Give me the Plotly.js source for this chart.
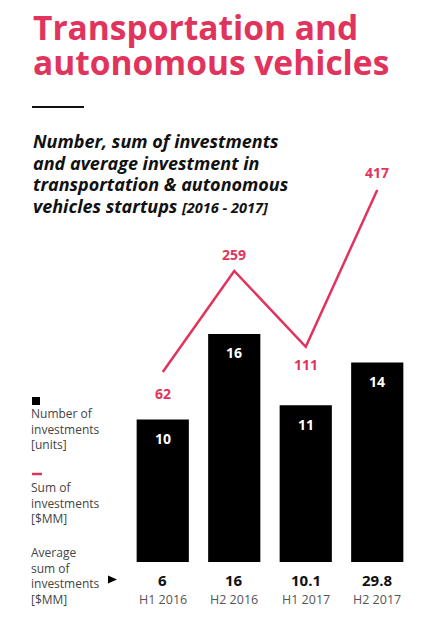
<!DOCTYPE html>
<html><head><meta charset="utf-8">
<script src="https://cdn.plot.ly/plotly-3.0.1.min.js"></script>
<style>html,body{margin:0;padding:0;background:#fff}#chart{width:425px;height:617px}</style>
</head><body><div id="chart"></div>
<script>
const categories = ["H1 2016", "H2 2016", "H1 2017", "H2 2017"];
const numberOfInvestments = [10, 16, 11, 14];
const sumOfInvestments = [62, 259, 111, 417];
const averageInvestment = ["6", "16", "10.1", "29.8"];
const titleLines = ["Transportation and", "autonomous vehicles"];
const subtitleLines = ["Number, sum of investments", "and average investment in", "transportation &amp; autonomous", "vehicles startups <span style=\"font-size:14.5px\">[2016 - 2017]</span>"];
const legendNumber = "Number of<br>investments<br>[units]";
const legendSum = "Sum of<br>investments<br>[$MM]";
const legendAvg = "Average<br>sum of<br>investments<br>[$MM]";

const PINK = "#E1345D";
const W = 425, H = 617, ML = 127, MR = 12, MT = 160, MB = 55;
const PW = W - ML - MR, PH = H - MT - MB;
const px = v => (v - ML) / PW;
const py = v => (H - MB - v) / PH;
const FONT = "Open Sans";

const annotations = [];
// Title
const titleY = [27, 62.5];
titleLines.forEach((t, i) => annotations.push({xref: "paper", yref: "paper", x: px(31), y: py(titleY[i]), xanchor: "left", yanchor: "middle", text: "<b>" + t + "</b>", showarrow: false, font: {family: FONT, size: 33.5, color: PINK}}));
// Subtitle
const subY = [141, 162.5, 184, 205.5];
subtitleLines.forEach((t, i) => annotations.push({xref: "paper", yref: "paper", x: px(31), y: py(subY[i]), xanchor: "left", yanchor: "middle", text: "<b><i>" + t + "</i></b>", showarrow: false, font: {family: FONT, size: 18, color: "#111"}}));
// Legend texts
[[legendNumber, 429], [legendSum, 503], [legendAvg, 575.5]].forEach(([t, y]) => annotations.push({xref: "paper", yref: "paper", x: px(29), y: py(y), xanchor: "left", yanchor: "middle", align: "left", text: t, showarrow: false, font: {family: FONT, size: 12, color: "#444"}}));
// Bar labels
categories.forEach((c, i) => annotations.push({xref: "x", yref: "y", x: c, y: numberOfInvestments[i], yshift: -19, yanchor: "middle", text: "<b>" + numberOfInvestments[i] + "</b>", showarrow: false, font: {family: FONT, size: 14, color: "#fff"}}));
// Line labels
const lineShift = [-21, 16, -18, 17];
categories.forEach((c, i) => annotations.push({xref: "x", yref: "y2", x: c, y: sumOfInvestments[i], yshift: lineShift[i], yanchor: "middle", text: "<b>" + sumOfInvestments[i] + "</b>", showarrow: false, font: {family: FONT, size: 14, color: PINK}}));
// Average row & categories
categories.forEach((c, i) => {
  annotations.push({xref: "x", yref: "paper", x: c, y: py(580), yanchor: "middle", text: "<b>" + averageInvestment[i] + "</b>", showarrow: false, font: {family: FONT, size: 15, color: "#111"}});
  annotations.push({xref: "x", yref: "paper", x: c, y: py(599), yanchor: "middle", text: c, showarrow: false, font: {family: FONT, size: 12.5, color: "#555"}});
});

const shapes = [
  {type: "line", xref: "paper", yref: "paper", x0: px(32), x1: px(84), y0: py(107), y1: py(107), line: {color: "#111", width: 2}},
  {type: "rect", xref: "paper", yref: "paper", x0: px(32), x1: px(40), y0: py(397), y1: py(405), fillcolor: "#000", line: {width: 0}},
  {type: "line", xref: "paper", yref: "paper", x0: px(32), x1: px(42), y0: py(474), y1: py(474), line: {color: PINK, width: 2.5}},
  {type: "path", xref: "paper", yref: "paper", path: `M ${px(108)} ${py(575.5)} L ${px(117)} ${py(579.5)} L ${px(108)} ${py(583.5)} Z`, fillcolor: "#000", line: {width: 0}}
];

const traces = [
  {type: "bar", x: categories, y: numberOfInvestments, marker: {color: "#000"}, hoverinfo: "skip", yaxis: "y"},
  {type: "scatter", mode: "lines", x: categories, y: sumOfInvestments, line: {color: PINK, width: 2.5}, hoverinfo: "skip", yaxis: "y2"}
];

const layout = {
  width: W, height: H,
  margin: {l: ML, r: MR, t: MT, b: MB, pad: 0},
  paper_bgcolor: "#fff", plot_bgcolor: "#fff",
  showlegend: false,
  bargap: 0.27,
  font: {family: FONT},
  xaxis: {type: "category", range: [-0.5, 3.5], showticklabels: false, showgrid: false, zeroline: false, showline: false, ticks: ""},
  yaxis: {range: [0, 28.2], visible: false, showgrid: false, zeroline: false},
  yaxis2: {range: [-308.4, 475.3], overlaying: "y", visible: false, showgrid: false, zeroline: false},
  annotations, shapes
};
Plotly.newPlot("chart", traces, layout, {staticPlot: true, displayModeBar: false});
</script></body></html>
